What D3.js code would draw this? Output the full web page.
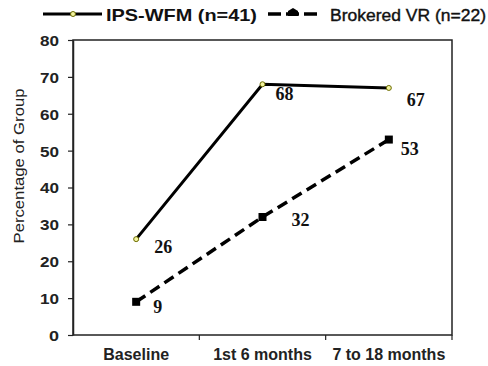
<!DOCTYPE html>
<html><head><meta charset="utf-8">
<script src="https://cdn.jsdelivr.net/npm/d3@7"></script>
<style>body{margin:0;background:#fff}</style>
</head><body>
<svg id="c" width="488" height="366"></svg>
<script>
const categories = ["Baseline", "1st 6 months", "7 to 18 months"];
const ipsValues = [26, 68, 67];
const brokeredValues = [9, 32, 53];
const yTicks = [0, 10, 20, 30, 40, 50, 60, 70, 80];
const seriesNames = ["IPS-WFM (n=41)", "Brokered VR (n=22)"];

const svg = d3.select("#c");
const L = 73, R = 452, T = 40, B = 335;
const x = d3.scaleBand().domain(categories).range([L, R]);
const y = d3.scaleLinear().domain([0, 80]).range([B, T]);
const cx = d => x(d) + x.bandwidth() / 2;
const sans = "Liberation Sans, Arial, sans-serif";
const serif = "Liberation Serif, Times New Roman, serif";

// frame
svg.append("rect").attr("x", L).attr("y", T).attr("width", R - L).attr("height", B - T)
  .attr("fill", "none").attr("stroke", "#222").attr("stroke-width", 1.5);

// y axis
const ya = svg.append("g").attr("transform", `translate(${L},0)`)
  .call(d3.axisLeft(y).tickValues(yTicks).tickSize(5).tickSizeOuter(0));
ya.select(".domain").attr("stroke", "#222").attr("stroke-width", 1.5);
ya.selectAll(".tick line").attr("stroke", "#222").attr("stroke-width", 1.2);
ya.selectAll("text").attr("font-family", sans)
  .attr("font-size", 15).attr("font-weight", "bold").attr("fill", "#222")
  .attr("x", -14).attr("dy", "0.36em")
  .attr("textLength", d => d === 0 ? 10 : 19).attr("lengthAdjust", "spacingAndGlyphs");

// x axis
const xa = svg.append("g").attr("transform", `translate(0,${B})`)
  .call(d3.axisBottom(x).tickSize(0));
xa.select(".domain").remove();
xa.selectAll("text").attr("font-family", sans)
  .attr("font-size", 16).attr("font-weight", "bold").attr("fill", "#222")
  .attr("y", 0).attr("dy", 25);
// category separators
svg.selectAll(".sep").data(categories.slice(0, 2)).enter().append("line")
  .attr("x1", d => x(d) + x.bandwidth()).attr("x2", d => x(d) + x.bandwidth())
  .attr("y1", B).attr("y2", B + 5).attr("stroke", "#222").attr("stroke-width", 1.2);
svg.append("line").attr("x1", R).attr("x2", R).attr("y1", B).attr("y2", B + 5)
  .attr("stroke", "#222").attr("stroke-width", 1.2);

// y title
svg.append("text").attr("transform", `translate(24,166) rotate(-90)`)
  .attr("text-anchor", "middle").attr("font-family", sans)
  .attr("font-size", 15).attr("fill", "#222")
  .attr("textLength", 155).attr("lengthAdjust", "spacingAndGlyphs")
  .text("Percentage of Group");

const line = d3.line().x((d, i) => cx(categories[i])).y(d => y(d));

// brokered dashed
svg.append("path").datum(brokeredValues).attr("d", line).attr("fill", "none")
  .attr("stroke", "#000").attr("stroke-width", 3.5).attr("stroke-dasharray", "11,6");
svg.selectAll(".bm").data(brokeredValues).enter().append("rect")
  .attr("x", (d, i) => cx(categories[i]) - 4).attr("y", d => y(d) - 4)
  .attr("width", 8).attr("height", 8).attr("fill", "#000");

// ips solid
svg.append("path").datum(ipsValues).attr("d", line).attr("fill", "none")
  .attr("stroke", "#000").attr("stroke-width", 3);
svg.selectAll(".im").data(ipsValues).enter().append("circle")
  .attr("cx", (d, i) => cx(categories[i])).attr("cy", d => y(d)).attr("r", 2.5)
  .attr("fill", "#f4f4a0").attr("stroke", "#6b6b00").attr("stroke-width", 1);

// data labels (offsets in px from each point)
const ipsLabelOffsets = [[18, 14], [13, 16], [18, 18]];
const brkLabelOffsets = [[17, 11], [29, 9], [12, 15]];
svg.selectAll(".il").data(ipsValues).enter().append("text")
  .attr("x", (d, i) => cx(categories[i]) + ipsLabelOffsets[i][0])
  .attr("y", (d, i) => y(d) + ipsLabelOffsets[i][1])
  .attr("font-family", serif).attr("font-weight", "bold").attr("font-size", 18)
  .attr("fill", "#111").text(d => d);
svg.selectAll(".bl").data(brokeredValues).enter().append("text")
  .attr("x", (d, i) => cx(categories[i]) + brkLabelOffsets[i][0])
  .attr("y", (d, i) => y(d) + brkLabelOffsets[i][1])
  .attr("font-family", serif).attr("font-weight", "bold").attr("font-size", 18)
  .attr("fill", "#111").text(d => d);

// legend
svg.append("line").attr("x1", 43).attr("x2", 102).attr("y1", 14).attr("y2", 14)
  .attr("stroke", "#000").attr("stroke-width", 3);
svg.append("circle").attr("cx", 73).attr("cy", 14).attr("r", 2.5)
  .attr("fill", "#f4f4a0").attr("stroke", "#6b6b00").attr("stroke-width", 1);
svg.append("text").attr("x", 106).attr("y", 21).attr("font-family", sans)
  .attr("font-size", 17).attr("font-weight", "bold").attr("fill", "#111")
  .attr("textLength", 151).attr("lengthAdjust", "spacingAndGlyphs").text(seriesNames[0]);
svg.append("line").attr("x1", 268).attr("x2", 320).attr("y1", 14).attr("y2", 14)
  .attr("stroke", "#000").attr("stroke-width", 3.5).attr("stroke-dasharray", "13,5");
svg.append("path").attr("d", "M288,16 L288,11 L293,8 L298,11 L298,16 Z").attr("fill", "#000");
svg.append("text").attr("x", 330).attr("y", 21).attr("font-family", sans)
  .attr("font-size", 17).attr("font-weight", "normal").attr("fill", "#111")
  .attr("stroke", "#111").attr("stroke-width", 0.4)
  .attr("textLength", 156).attr("lengthAdjust", "spacingAndGlyphs").text(seriesNames[1]);
</script>
</body></html>
